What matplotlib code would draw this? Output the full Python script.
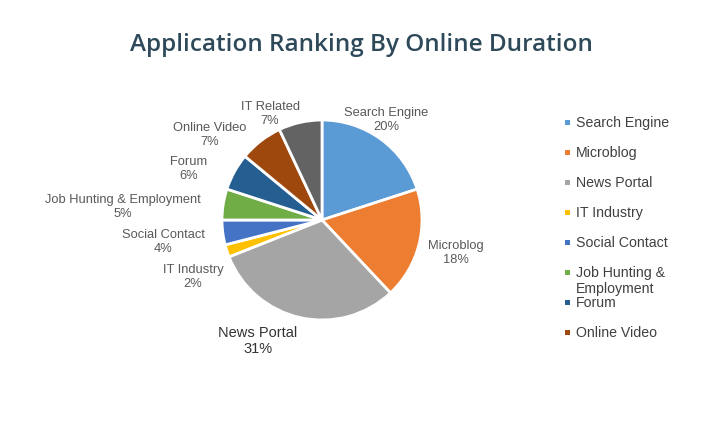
import matplotlib
matplotlib.use("Agg")
import matplotlib.pyplot as plt
from matplotlib.patches import Rectangle

categories = ["Search Engine", "Microblog", "News Portal", "IT Industry",
              "Social Contact", "Job Hunting & Employment", "Forum",
              "Online Video", "IT Related"]
values = [20, 18, 31, 2, 4, 5, 6, 7, 7]
colors = ["#5B9BD5", "#ED7D31", "#A5A5A5", "#FFC000", "#4472C4",
          "#70AD47", "#255E91", "#9E480E", "#636363"]
legend_labels = ["Search Engine", "Microblog", "News Portal", "IT Industry",
                 "Social Contact", "Job Hunting &\nEmployment", "Forum",
                 "Online Video"]

# label layout (data units relative to pie centre, radius = 1)
label_pos = [(0.64, 1.00), (1.34, -0.33), (-0.64, -1.21), (-1.29, -0.57),
             (-1.59, -0.22), (-1.99, 0.13), (-1.33, 0.51), (-1.12, 0.85),
             (-0.52, 1.06)]

W, H = 710, 425
fig = plt.figure(figsize=(W / 100, H / 100), dpi=100)
fig.patch.set_facecolor("white")
ax = fig.add_axes([0, 0, 1, 1])
cx, cy, r = 322, 220, 100

ax.pie(values, colors=colors, startangle=90, counterclock=False, radius=1.0,
       wedgeprops=dict(edgecolor="white", linewidth=2))
ax.set_xlim(-cx / r, (W - cx) / r)
ax.set_ylim(-(H - cy) / r, cy / r)
ax.set_aspect("equal")
ax.axis("off")

font = "Liberation Sans"
for i, (cat, v) in enumerate(zip(categories, values)):
    x, y = label_pos[i]
    if cat == "News Portal":
        ax.text(x, y, f"{cat}\n{v}%", ha="center", va="center",
                fontsize=10.5, color="#333333", family=font,
                linespacing=1.25)
    else:
        ax.text(x, y, f"{cat}\n{v}%", ha="center", va="center",
                fontsize=9.3, color="#595959", family=font, linespacing=1.25)

fig.text(361 / W, 1 - 45 / H, "Application Ranking By Online Duration",
         ha="center", va="center", fontsize=17.5, color="#2E4A5A",
         family="Open Sans", fontweight="semibold")

# legend (first 8 entries, as in the reference)
y0, dy = 122, 30
for i, lab in enumerate(legend_labels):
    yp = y0 + i * dy
    fig.patches.append(Rectangle((565 / W, 1 - (yp + 2.5) / H), 5 / W, 5 / H,
                                 transform=fig.transFigure,
                                 facecolor=colors[i], edgecolor="none"))
    fig.text(576 / W, 1 - (yp - 6) / H, lab, ha="left", va="top",
             fontsize=10.2, color="#404040", family=font, linespacing=1.15)

fig.savefig("out.png", dpi=100, facecolor="white")
